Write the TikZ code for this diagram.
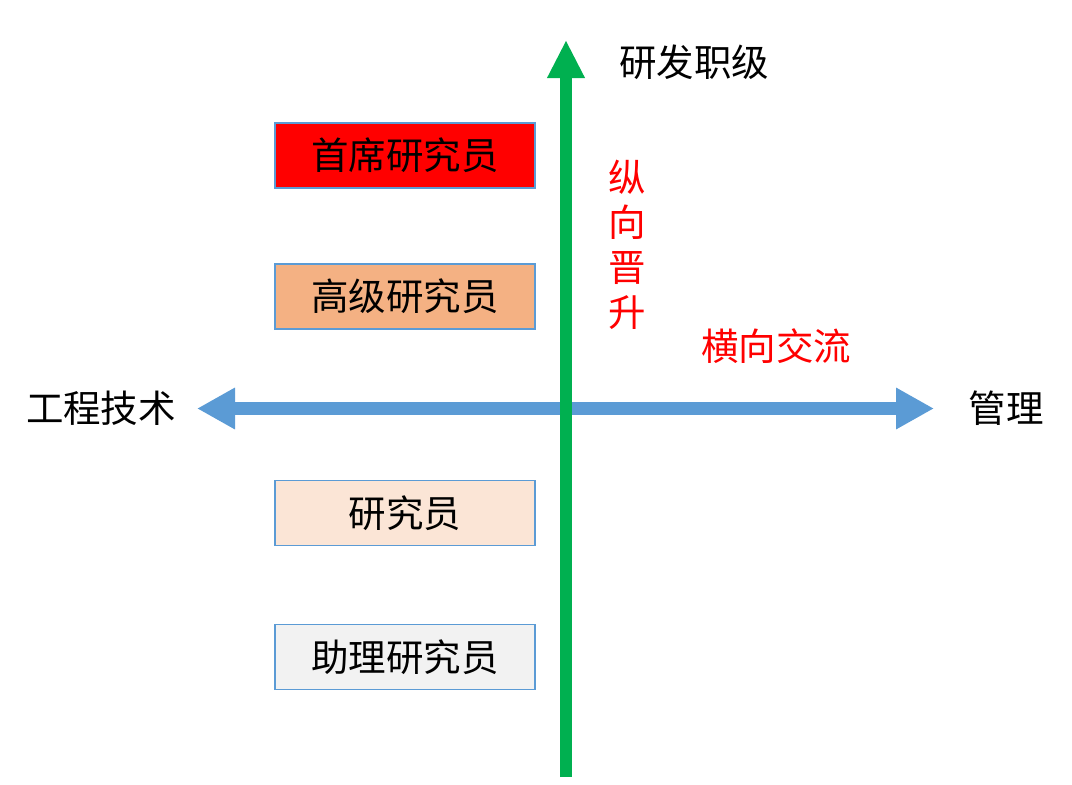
\documentclass[tikz,border=0pt]{standalone}
\usepackage{fontspec}
\setmainfont{Noto Sans CJK SC}
\usetikzlibrary{arrows.meta}
\definecolor{boxline}{HTML}{5B9BD5}
\definecolor{harrow}{HTML}{5B9BD5}
\definecolor{varrow}{HTML}{00B050}
\definecolor{lvl1}{HTML}{FF0000}
\definecolor{lvl2}{HTML}{F4B183}
\definecolor{lvl3}{HTML}{FBE5D6}
\definecolor{lvl4}{HTML}{F2F2F2}
\tikzset{
  levelbox/.style={draw=boxline, line width=1.3pt, minimum width=260pt, minimum height=65pt, inner sep=0pt, font=\fontsize{37.5}{42}\selectfont},
  axislabel/.style={inner sep=0pt, font=\fontsize{37.5}{42}\selectfont},
  redlabel/.style={axislabel, text=red},
  harr/.style={draw=harrow, line width=13pt, {Triangle[width=39pt,length=38pt]}-{Triangle[width=39pt,length=38pt]}},
  varr/.style={draw=varrow, line width=12.5pt, -{Triangle[width=35pt,length=38pt]}}
}
\begin{document}
\begin{tikzpicture}[x=1pt,y=-1pt]
\useasboundingbox (0,0) rectangle (1072,785);
\coordinate (hl) at (197,408.5);
\coordinate (hr) at (934,408.5);
\coordinate (vbot) at (566,777);
\coordinate (vtop) at (566,40);
\draw[harr] (hl) -- (hr);
\draw[varr] (vbot) -- (vtop);
\node[levelbox, fill=lvl1] (b1) at (405,155.5) {首席研究员};
\node[levelbox, fill=lvl2] (b2) at (405,296.5) {高级研究员};
\node[levelbox, fill=lvl3] (b3) at (405,513) {研究员};
\node[levelbox, fill=lvl4] (b4) at (405,657) {助理研究员};
\node[axislabel] (top) at (694,62) {研发职级};
\node[axislabel] (left) at (101,408) {工程技术};
\node[axislabel] (right) at (1006,408) {管理};
\node[redlabel, align=center, font=\fontsize{37.5}{45}\selectfont] (vert) at (627,245) {纵\\向\\晋\\升};
\node[redlabel] (horiz) at (776,346) {横向交流};
\end{tikzpicture}
\end{document}
